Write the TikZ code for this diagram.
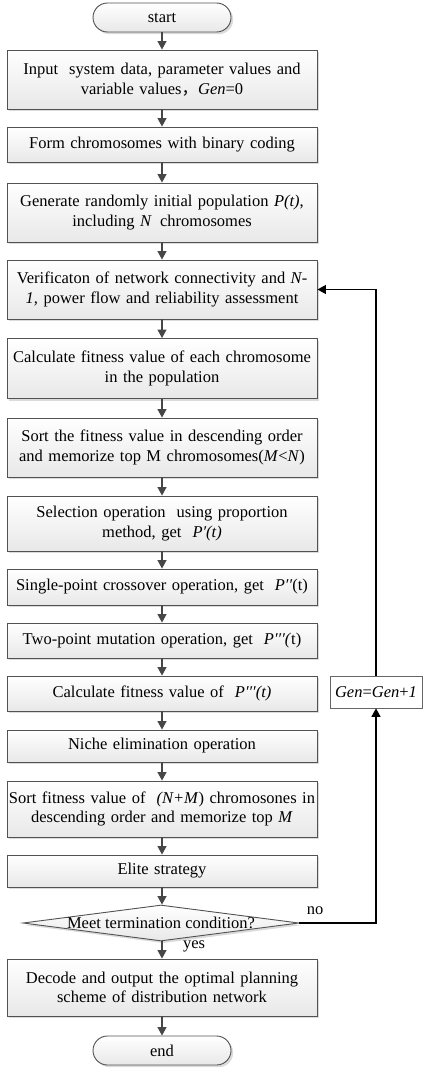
\documentclass[tikz,border=0pt]{standalone}
\usepackage{fontspec}
\setmainfont{Liberation Serif}
\newfontfamily\cjk{Noto Sans CJK SC}
\usetikzlibrary{arrows.meta,shapes.geometric,shadows}
\begin{document}
\begin{tikzpicture}[x=1pt,y=-1pt,
  font=\fontsize{16.5}{19.5}\selectfont,
  procbox/.style={draw=black!68, line width=0.9pt, top color=white, bottom color=black!9,
    drop shadow={shadow xshift=2.2pt, shadow yshift=-2.2pt, fill=black!14, opacity=1},
    minimum width=310pt, text width=308pt, align=center, inner sep=0pt},
  termbox/.style={procbox, minimum width=138pt, text width=120pt, minimum height=29pt,
    rounded corners=14.5pt},
  decbox/.style={diamond, aspect=7.6, draw=black!68, line width=0.9pt, top color=white,
    bottom color=black!9,
    drop shadow={shadow xshift=2.2pt, shadow yshift=-2.2pt, fill=black!14, opacity=1},
    minimum width=276pt, minimum height=36pt, inner sep=0pt},
  genbox/.style={draw=black!60, line width=0.7pt, fill=white, minimum width=92pt,
    minimum height=32pt, inner sep=2pt},
  flow/.style={draw=black!72, line width=1.2pt, -{Triangle[length=8.5pt,width=9pt]}},
  back/.style={draw=black, line width=1.2pt, -{Triangle[length=8.5pt,width=9pt]}}]
\useasboundingbox (0,0) rectangle (423,1070);

\node[termbox] (start) at (162,17.5) {start};
\node[procbox, minimum height=59pt] (b1) at (162,79.5)
  {Input\ \ system data, parameter values and\\ variable values{\cjk ，}\textit{Gen}=0};
\node[procbox, minimum height=35pt] (b2) at (162,144.5) {Form chromosomes with binary coding};
\node[procbox, minimum height=59pt] (b3) at (162,212.5)
  {Generate randomly initial population \textit{P(t)},\\ including \textit{N}\, chromosomes};
\node[procbox, minimum height=59pt] (b4) at (162,289.5)
  {Verificaton of network connectivity and \textit{N-}\\\textit{1,} power flow and reliability assessment};
\node[procbox, minimum height=60pt] (b5) at (162,368.5)
  {Calculate fitness value of each chromosome\\ in the population};
\node[procbox, minimum height=59pt] (b6) at (162,447.5)
  {Sort the fitness value in descending order\\ and memorize top M chromosomes(\textit{M}<\textit{N})};
\node[procbox, minimum height=55pt] (b7) at (162,523.5)
  {Selection operation\ \ using proportion\\ method, get\ \ \textit{P′(t)}};
\node[procbox, minimum height=36pt] (b8) at (162,587)
  {Single-point crossover operation, get\ \ \textit{P′′}(t)};
\node[procbox, minimum height=35pt] (b9) at (162,640.5)
  {Two-point mutation operation, get\ \ \textit{P′′′(}t)};
\node[procbox, minimum height=35pt] (b10) at (162,693.5)
  {Calculate fitness value of\ \ \textit{P′′′(t)}};
\node[procbox, minimum height=32pt] (b11) at (162,746) {Niche elimination operation};
\node[procbox, minimum height=56pt] (b12) at (162,809)
  {Sort fitness value of\ \ \textit{(N+M}) chromosones in\\ descending order and memorize top \textit{M}};
\node[procbox, minimum height=32pt] (b13) at (162,871) {Elite strategy};
\node[decbox] (dec) at (161,923) {};
\node (dectext) at (dec.center) {Meet termination condition?};
\node[procbox, minimum height=57pt] (b14) at (162,987.5)
  {Decode and output the optimal planning\\ scheme of distribution network};
\node[termbox] (end) at (162,1050.5) {end};

\node[genbox, anchor=center] (gen) at (376,692) {\textit{Gen}=\textit{Gen}+\textit{1}};

\node (no) at (315,911) {no};
\node (yes) at (194,946) {yes};

\draw[flow] (start) -- (b1);
\draw[flow] (b1) -- (b2);
\draw[flow] (b2) -- (b3);
\draw[flow] (b3) -- (b4);
\draw[flow] (b4) -- (b5);
\draw[flow] (b5) -- (b6);
\draw[flow] (b6) -- (b7);
\draw[flow] (b7) -- (b8);
\draw[flow] (b8) -- (b9);
\draw[flow] (b9) -- (b10);
\draw[flow] (b10) -- (b11);
\draw[flow] (b11) -- (b12);
\draw[flow] (b12) -- (b13);
\draw[flow] (b13.south) -- (b13.south |- dec.north);
\draw[flow] (b14.north |- dec.south) -- (b14.north);
\draw[flow] (b14) -- (end);

\draw[back] (dec.east) -| (gen.south);
\draw[back] (gen.north) |- (b4.east);
\end{tikzpicture}
\end{document}
